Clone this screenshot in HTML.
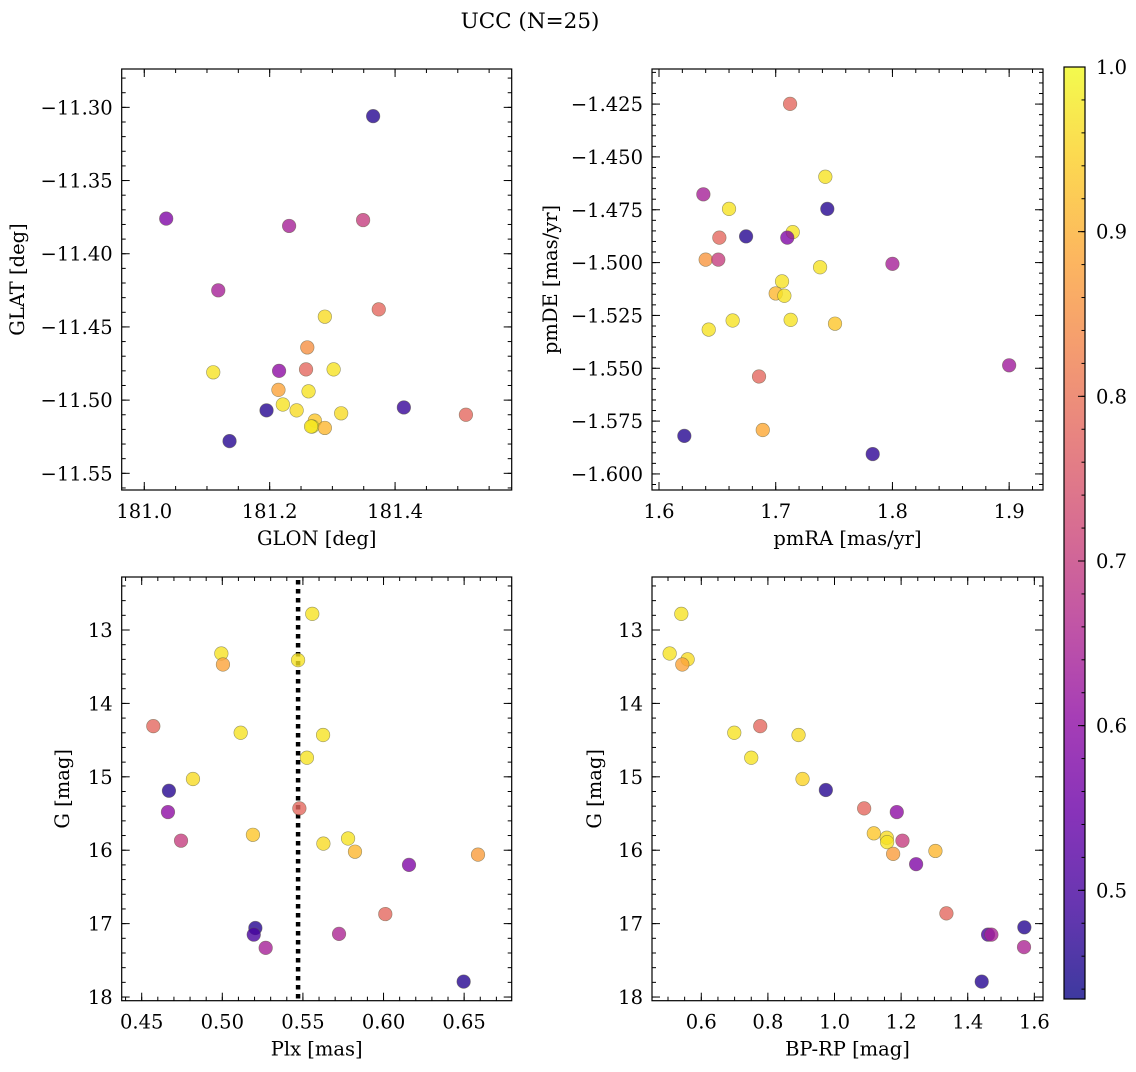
<!DOCTYPE html>
<html><head><meta charset="utf-8">
<style>
html,body{margin:0;padding:0;background:#fff;}
svg text{font-family:"DejaVu Serif","Liberation Serif",serif;fill:#000;}
</style></head>
<body>
<svg id="fig" width="1136" height="1067" viewBox="0 0 1136 1067" xmlns="http://www.w3.org/2000/svg">
<defs>
<linearGradient id="cbgrad" x1="0" y1="1" x2="0" y2="0">
<stop offset="0" stop-color="#0d0887"/><stop offset="0.1" stop-color="#41049d"/><stop offset="0.2" stop-color="#6a00a8"/><stop offset="0.3" stop-color="#8f0da4"/><stop offset="0.4" stop-color="#b12a90"/><stop offset="0.5" stop-color="#cc4778"/><stop offset="0.6" stop-color="#e16462"/><stop offset="0.7" stop-color="#f2844b"/><stop offset="0.8" stop-color="#fca636"/><stop offset="0.9" stop-color="#fcce25"/><stop offset="1" stop-color="#f0f921"/>
</linearGradient>
</defs>
<text x="530" y="28" font-size="21.5" text-anchor="middle">UCC (N=25)</text>
</svg>
<script>
// ---- data ----
const glon = [181.035,181.365,181.231,181.349,181.118,181.374,181.288,181.260,181.110,181.215,181.258,181.302,181.214,181.262,181.221,181.195,181.243,181.414,181.314,181.513,181.272,181.268,181.288,181.136,181.266];
const glat = [-11.376,-11.306,-11.381,-11.377,-11.425,-11.438,-11.443,-11.464,-11.481,-11.480,-11.479,-11.479,-11.493,-11.494,-11.503,-11.507,-11.507,-11.505,-11.509,-11.510,-11.514,-11.518,-11.519,-11.528,-11.518];
const probTL = [0.58,0.46,0.64,0.70,0.64,0.78,0.96,0.85,0.97,0.60,0.78,0.97,0.88,0.97,0.97,0.46,0.96,0.48,0.96,0.78,0.93,1.0,0.91,0.46,0.97];

const pmra = [1.7123,1.7425,1.638,1.660,1.7442,1.6517,1.6746,1.7146,1.7099,1.640,1.6508,1.800,1.738,1.7054,1.700,1.7074,1.6631,1.7128,1.7508,1.6426,1.900,1.6857,1.6889,1.6217,1.7831];
const pmde = [-1.4249,-1.4594,-1.4677,-1.4746,-1.4746,-1.4882,-1.4876,-1.4856,-1.4882,-1.4986,-1.4986,-1.5006,-1.5022,-1.5089,-1.5146,-1.5157,-1.5274,-1.5271,-1.5289,-1.5317,-1.5486,-1.5539,-1.5792,-1.582,-1.5906];
const probTR = [0.78,0.97,0.64,0.97,0.46,0.78,0.46,0.97,0.58,0.86,0.70,0.64,0.97,0.97,0.91,0.97,0.97,0.97,0.93,0.97,0.63,0.78,0.89,0.46,0.47];

const plx = [0.5558,0.4994,0.5004,0.547,0.4572,0.5114,0.5625,0.5525,0.4818,0.4669,0.5478,0.4663,0.4744,0.519,0.578,0.5627,0.5823,0.6586,0.6158,0.6011,0.5205,0.5195,0.5724,0.5269,0.6497];
const gmagBL = [12.78,13.32,13.47,13.41,14.31,14.40,14.43,14.74,15.03,15.19,15.43,15.48,15.87,15.79,15.84,15.91,16.02,16.06,16.20,16.87,17.06,17.15,17.14,17.33,17.79];
const probBL = [0.97,0.97,0.88,0.97,0.78,0.97,0.97,0.97,0.96,0.46,0.78,0.60,0.70,0.93,0.97,0.96,0.91,0.87,0.58,0.78,0.46,0.50,0.65,0.64,0.46];
const plxMedian = 0.547;

const bprp = [0.540,0.505,0.559,0.543,0.777,0.699,0.892,0.750,0.904,0.974,1.089,1.187,1.118,1.157,1.158,1.204,1.303,1.176,1.245,1.336,1.570,1.461,1.471,1.569,1.442];
const gmagBR = [12.78,13.32,13.40,13.47,14.31,14.40,14.43,14.74,15.03,15.18,15.43,15.48,15.77,15.83,15.89,15.87,16.01,16.05,16.19,16.86,17.05,17.15,17.15,17.32,17.79];
const probBR = [0.97,0.97,0.96,0.88,0.78,0.97,0.96,0.97,0.95,0.46,0.78,0.60,0.93,0.96,0.97,0.70,0.91,0.87,0.58,0.78,0.46,0.50,0.64,0.65,0.46];

const tlXTicks = [181.0,181.2,181.4];
const tlYTicks = [-11.30,-11.35,-11.40,-11.45,-11.50,-11.55];
const trXTicks = [1.6,1.7,1.8,1.9];
const trYTicks = [-1.425,-1.450,-1.475,-1.500,-1.525,-1.550,-1.575,-1.600];
const blXTicks = [0.45,0.50,0.55,0.60,0.65];
const gTicks = [13,14,15,16,17,18];
const brXTicks = [0.6,0.8,1.0,1.2,1.4,1.6];
const cbTicks = [0.5,0.6,0.7,0.8,0.9,1.0];
const cMin = 0.434, cMax = 1.0;

// ---- rendering ----
const NS = "http://www.w3.org/2000/svg";
const svg = document.getElementById('fig');
const FS = 19.5;
function mk(tag, attrs, parent){const e=document.createElementNS(NS,tag);for(const k in attrs)e.setAttribute(k,attrs[k]);(parent||svg).appendChild(e);return e;}
const stops=[[13,8,135],[65,4,157],[106,0,168],[143,13,164],[177,42,144],[204,71,120],[225,100,98],[242,132,75],[252,166,54],[252,206,37],[240,249,33]];
function plasma(v){let t=(v-cMin)/(cMax-cMin);t=Math.max(0,Math.min(1,t))*10;const i=Math.min(9,Math.floor(t)),f=t-i;const a=stops[i],b=stops[i+1];return 'rgb('+[0,1,2].map(k=>Math.round(a[k]+(b[k]-a[k])*f)).join(',')+')';}
function fmt(v,d){return (v<0?'\u2212':'')+Math.abs(v).toFixed(d);}

function panel(o){
  const g=mk('g',{});
  
  
  const sx=v=>o.x0+(v-o.xmin)/(o.xmax-o.xmin)*(o.x1-o.x0);
  const sy=o.yinv? (v=>o.y0+(v-o.ymin)/(o.ymax-o.ymin)*(o.y1-o.y0)) : (v=>o.y1-(v-o.ymin)/(o.ymax-o.ymin)*(o.y1-o.y0));
  const tg=mk('g',{stroke:'#000','stroke-width':1},g);
  
  
  const lo=Math.min(o.xmin,o.xmax),hi=Math.max(o.xmin,o.xmax);
  for(let v=Math.ceil(lo/o.xminor-1e-6)*o.xminor; v<=hi+1e-9; v+=o.xminor){const x=sx(v);mk('line',{x1:x,x2:x,y1:o.y1,y2:o.y1-4},tg);mk('line',{x1:x,x2:x,y1:o.y0,y2:o.y0+4},tg);}
  const ylo=Math.min(o.ymin,o.ymax),yhi=Math.max(o.ymin,o.ymax);
  for(let v=Math.ceil(ylo/o.yminor-1e-6)*o.yminor; v<=yhi+1e-9; v+=o.yminor){const y=sy(v);mk('line',{x1:o.x0,x2:o.x0+4,y1:y,y2:y},tg);mk('line',{x1:o.x1,x2:o.x1-4,y1:y,y2:y},tg);}
  o.xticks.forEach(v=>{const x=sx(v);mk('line',{x1:x,x2:x,y1:o.y1,y2:o.y1-8},tg);mk('line',{x1:x,x2:x,y1:o.y0,y2:o.y0+8},tg);
    const t=mk('text',{x:x,y:o.y1+28,'font-size':FS,'text-anchor':'middle'},g);t.textContent=fmt(v,o.xd);
    
    });
  o.yticks.forEach(v=>{const y=sy(v);mk('line',{x1:o.x0,x2:o.x0+8,y1:y,y2:y},tg);mk('line',{x1:o.x1,x2:o.x1-8,y1:y,y2:y},tg);
    const t=mk('text',{x:o.x0-9,y:y+7,'font-size':FS,'text-anchor':'end'},g);t.textContent=fmt(v,o.yd);
    
    });
  if(o.vline!==undefined){const x=sx(o.vline);const l=mk('line',{x1:x,x2:x,y1:o.y0+3,y2:o.y1,stroke:'#000','stroke-width':4.5,'stroke-dasharray':'4.5 4.5'},g);
    
    }
  const pg=mk('g',{},g);
  o.xs.forEach((xv,i)=>{const c=mk('circle',{cx:sx(xv),cy:sy(o.ys[i]),r:6.8,fill:plasma(o.cs[i]),'fill-opacity':0.8,stroke:'rgba(90,90,60,0.6)','stroke-width':0.6},pg);
    
    });
  const fr=mk('rect',{x:o.x0,y:o.y0,width:o.x1-o.x0,height:o.y1-o.y0,fill:'none',stroke:'#000','stroke-width':1.2},g);
  
  
  const xl=mk('text',{x:(o.x0+o.x1)/2,y:o.y1+55,'font-size':FS,'text-anchor':'middle'},g);xl.textContent=o.xlabel;
  
  
  const yl=mk('text',{x:0,y:0,'font-size':FS,'text-anchor':'middle',transform:'translate('+o.ylx+','+((o.y0+o.y1)/2)+') rotate(-90)'},g);yl.textContent=o.ylabel;
  
  
}

panel({name:'glon-glat-panel',x0:121.7,x1:511.7,y0:69,y1:490,xmin:180.964,xmax:181.586,ymin:-11.5614,ymax:-11.2738,
  xticks:tlXTicks,yticks:tlYTicks,xminor:0.05,yminor:0.01,xd:1,yd:2,xs:glon,ys:glat,cs:probTL,xlabel:'GLON [deg]',ylabel:'GLAT [deg]',ylx:24});
panel({name:'pm-panel',x0:652,x1:1043,y0:69,y1:490,xmin:1.594,xmax:1.929,ymin:-1.6076,ymax:-1.4084,
  xticks:trXTicks,yticks:trYTicks,xminor:0.02,yminor:0.005,xd:1,yd:3,xs:pmra,ys:pmde,cs:probTR,xlabel:'pmRA [mas/yr]',ylabel:'pmDE [mas/yr]',ylx:557});
panel({name:'plx-g-panel',x0:121.7,x1:511.7,y0:577,y1:1000.7,xmin:0.4376,xmax:0.6795,ymin:12.278,ymax:18.05,yinv:true,
  xticks:blXTicks,yticks:gTicks,xminor:0.01,yminor:0.2,xd:2,yd:0,xs:plx,ys:gmagBL,cs:probBL,xlabel:'Plx [mas]',ylabel:'G [mag]',ylx:69,vline:plxMedian});
panel({name:'cmd-panel',x0:652,x1:1043,y0:577,y1:1000.7,xmin:0.452,xmax:1.626,ymin:12.278,ymax:18.05,yinv:true,
  xticks:brXTicks,yticks:gTicks,xminor:0.05,yminor:0.2,xd:1,yd:0,xs:bprp,ys:gmagBR,cs:probBR,xlabel:'BP-RP [mag]',ylabel:'G [mag]',ylx:601});

// colorbar
const cb=mk('g',{});


const cbx0=1064,cbx1=1085,cby0=67,cby1=999;
mk('rect',{x:cbx0,y:cby0,width:cbx1-cbx0,height:cby1-cby0,fill:'url(#cbgrad)','fill-opacity':0.8},cb);
const cy=v=>cby1-(v-cMin)/(cMax-cMin)*(cby1-cby0);
for(let v=0.44;v<=1.0001;v+=0.02){const y=cy(v);mk('line',{x1:cbx1,x2:cbx1-3.5,y1:y,y2:y,stroke:'#000','stroke-width':1},cb);}
cbTicks.forEach(v=>{const y=cy(v);mk('line',{x1:cbx1,x2:cbx1-7,y1:y,y2:y,stroke:'#000','stroke-width':1},cb);
  const t=mk('text',{x:1096,y:y+7,'font-size':FS},cb);t.textContent=v.toFixed(1);
  
  });
mk('rect',{x:cbx0,y:cby0,width:cbx1-cbx0,height:cby1-cby0,fill:'none',stroke:'#000','stroke-width':1.2},cb);
</script>
</body></html>
